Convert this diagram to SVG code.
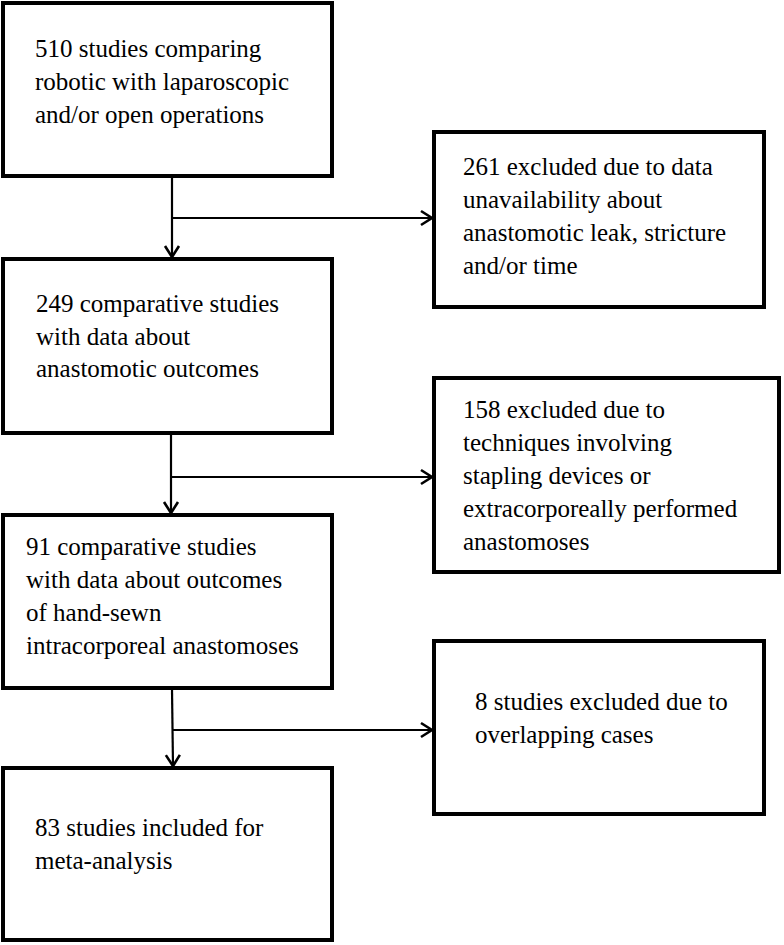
<svg xmlns="http://www.w3.org/2000/svg" width="784" height="945" viewBox="0 0 784 945">
<defs>
<style>
.box{fill:#fff;stroke:#000;stroke-width:4}
.con{fill:none;stroke:#000;stroke-width:2.2}
</style>
<marker id="arr" markerUnits="userSpaceOnUse" markerWidth="16" markerHeight="18" refX="13" refY="8" orient="auto" viewBox="0 0 16 16">
<path d="M2,1 L13,8 L2,15" fill="none" stroke="#000" stroke-width="2.6"/>
</marker>
</defs>
<rect width="784" height="945" fill="#fff"/>
<g id="connectors">
<path class="con" d="M172,177 L172,257" marker-end="url(#arr)"/>
<path class="con" d="M172,218 L432,218" marker-end="url(#arr)"/>
<path class="con" d="M171,434 L171,513" marker-end="url(#arr)"/>
<path class="con" d="M171,477 L432,477" marker-end="url(#arr)"/>
<path class="con" d="M172,689 L173,766" marker-end="url(#arr)"/>
<path class="con" d="M172,730 L432,730" marker-end="url(#arr)"/>
</g>
<g id="n510">
<rect class="box" x="3" y="3" width="329" height="173"/>
<text x="35" y="57" font-family="Liberation Serif" font-size="25">510 studies comparing</text>
<text x="35" y="90" font-family="Liberation Serif" font-size="25">robotic with laparoscopic</text>
<text x="35" y="123" font-family="Liberation Serif" font-size="25">and/or open operations</text>
</g>
<g id="n261">
<rect class="box" x="434" y="132" width="330" height="175"/>
<text x="463" y="175" font-family="Liberation Serif" font-size="25">261 excluded due to data</text>
<text x="463" y="208" font-family="Liberation Serif" font-size="25">unavailability about</text>
<text x="463" y="241" font-family="Liberation Serif" font-size="25">anastomotic leak, stricture</text>
<text x="463" y="274" font-family="Liberation Serif" font-size="25">and/or time</text>
</g>
<g id="n249">
<rect class="box" x="3" y="259" width="329" height="174"/>
<text x="36" y="312" font-family="Liberation Serif" font-size="25">249 comparative studies</text>
<text x="36" y="345" font-family="Liberation Serif" font-size="25">with data about</text>
<text x="36" y="377" font-family="Liberation Serif" font-size="25">anastomotic outcomes</text>
</g>
<g id="n158">
<rect class="box" x="434" y="378" width="345" height="194"/>
<text x="463" y="418" font-family="Liberation Serif" font-size="25">158 excluded due to</text>
<text x="463" y="451" font-family="Liberation Serif" font-size="25">techniques involving</text>
<text x="463" y="484" font-family="Liberation Serif" font-size="25">stapling devices or</text>
<text x="463" y="517" font-family="Liberation Serif" font-size="25">extracorporeally performed</text>
<text x="463" y="550" font-family="Liberation Serif" font-size="25">anastomoses</text>
</g>
<g id="n91">
<rect class="box" x="3" y="515" width="329" height="173"/>
<text x="26" y="555" font-family="Liberation Serif" font-size="25">91 comparative studies</text>
<text x="26" y="588" font-family="Liberation Serif" font-size="25">with data about outcomes</text>
<text x="26" y="621" font-family="Liberation Serif" font-size="25">of hand-sewn</text>
<text x="26" y="654" font-family="Liberation Serif" font-size="25">intracorporeal anastomoses</text>
</g>
<g id="n8">
<rect class="box" x="434" y="641" width="330" height="173"/>
<text x="475" y="710" font-family="Liberation Serif" font-size="25">8 studies excluded due to</text>
<text x="475" y="743" font-family="Liberation Serif" font-size="25">overlapping cases</text>
</g>
<g id="n83">
<rect class="box" x="3" y="768" width="329" height="172"/>
<text x="35" y="836" font-family="Liberation Serif" font-size="25">83 studies included for</text>
<text x="35" y="869" font-family="Liberation Serif" font-size="25">meta-analysis</text>
</g>
</svg>
